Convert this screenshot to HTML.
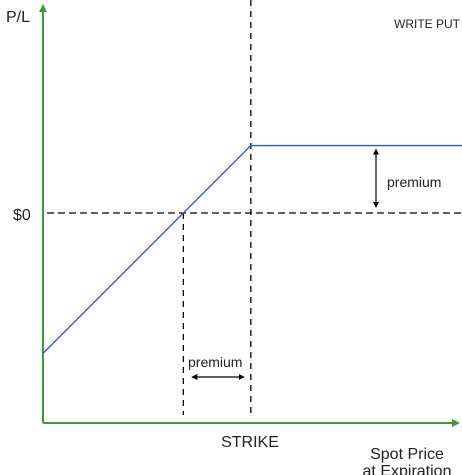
<!DOCTYPE html>
<html><head><meta charset="utf-8"><style>
html,body{margin:0;padding:0;background:#fff;width:462px;height:475px;overflow:hidden}
text{font-family:"Liberation Sans",sans-serif}
</style></head><body>
<svg id="chart" width="462" height="475" viewBox="0 0 462 475" xmlns="http://www.w3.org/2000/svg">
<defs>
<marker id="ga" markerWidth="8" markerHeight="8" refX="6" refY="4" orient="auto" markerUnits="userSpaceOnUse"><path d="M0,0 L8,4 L0,8 z" fill="#3a9a3a"/></marker>
<marker id="ba" markerWidth="6" markerHeight="6" refX="5" refY="3" orient="auto-start-reverse" markerUnits="userSpaceOnUse"><path d="M0,0 L6,3 L0,6 z" fill="#000"/></marker>
</defs>
<g id="marks"></g>
<text x="6" y="22" font-size="16" fill="#222">P/L</text>
<text x="460" y="28" font-size="12" fill="#222" text-anchor="end">WRITE PUT</text>
<text x="13" y="220" font-size="16" fill="#222">$0</text>
<text x="250" y="447" font-size="16" fill="#222" text-anchor="middle">STRIKE</text>
<text x="407" y="459" font-size="16" fill="#222" text-anchor="middle">Spot Price</text>
<text x="407" y="476" font-size="16" fill="#222" text-anchor="middle">at Expiration</text>
</svg>
<script>
const spotDomain = [0, 100];
const strike = [49.6];
const premium = [16.1];
const plDomain = [-50, 50];

const X0 = 43, X1 = 462, Y0 = 213;
const unit = (X1 - X0) / (spotDomain[1] - spotDomain[0]);
function xs(v){ return X0 + (v - spotDomain[0]) * unit; }
function ys(v){ return Y0 - v * unit; }

const g = document.getElementById('marks');
const NS = 'http://www.w3.org/2000/svg';
function el(tag, attrs){ const e = document.createElementNS(NS, tag); for (const k in attrs) e.setAttribute(k, attrs[k]); g.appendChild(e); return e; }

const K = strike[0], P = premium[0];
const xs0 = xs(K), breakeven = xs(K - P);

let a = el('line', {x1: X0, y1: 423, x2: X0, y2: 6, stroke: '#3a9a3a', 'stroke-width': 2, 'marker-end': 'url(#ga)'});


a = el('line', {x1: X0, y1: 423, x2: 458, y2: 423, stroke: '#3a9a3a', 'stroke-width': 2, 'marker-end': 'url(#ga)'});



a = el('line', {x1: 47, y1: ys(0), x2: 462, y2: ys(0), stroke: '#000', 'stroke-width': 1.3, 'stroke-dasharray': '7,4'});


a = el('line', {x1: xs0, y1: 0, x2: xs0, y2: 418, stroke: '#000', 'stroke-width': 1.3, 'stroke-dasharray': '6,5'});


a = el('line', {x1: breakeven, y1: ys(0), x2: breakeven, y2: 415, stroke: '#000', 'stroke-width': 1.3, 'stroke-dasharray': '6,5'});



const pts = [[spotDomain[0], spotDomain[0] - K + P], [K, P], [spotDomain[1], P]];
a = el('polyline', {points: pts.map(p => xs(p[0]) + ',' + ys(p[1])).join(' '), fill: 'none', stroke: '#3355dd', 'stroke-width': 1.4});



a = el('line', {x1: 376, y1: ys(P) + 4, x2: 376, y2: ys(0) - 6, stroke: '#000', 'stroke-width': 1.2, 'marker-start': 'url(#ba)', 'marker-end': 'url(#ba)'});


a = el('line', {x1: breakeven + 9, y1: 377, x2: xs0 - 7, y2: 377, stroke: '#000', 'stroke-width': 1.2, 'marker-start': 'url(#ba)', 'marker-end': 'url(#ba)'});



a = el('text', {x: 387, y: 187, 'font-size': 14, fill: '#222'});
a.textContent = 'premium';


a = el('text', {x: 188, y: 367, 'font-size': 14, fill: '#222'});
a.textContent = 'premium';


</script>
</body></html>
